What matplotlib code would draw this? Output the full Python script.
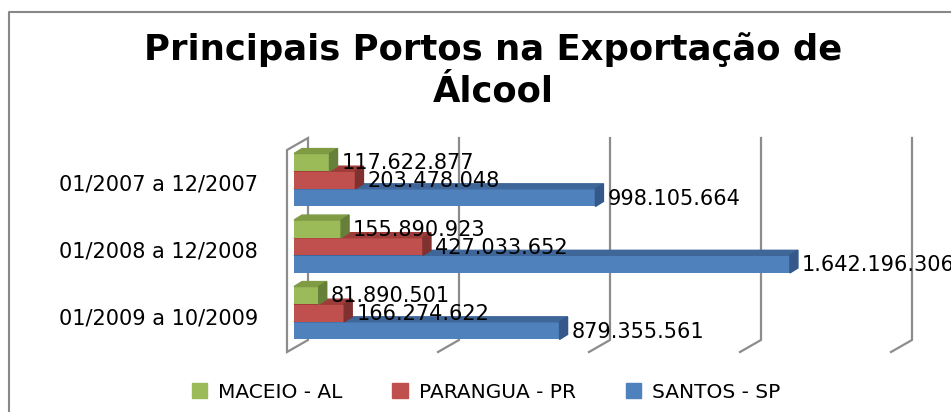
import matplotlib.pyplot as plt
from matplotlib.patches import Polygon, Patch

periodos = ['01/2007 a 12/2007', '01/2008 a 12/2008', '01/2009 a 10/2009']
maceio = [117622877, 155890923, 81890501]
parangua = [203478048, 427033652, 166274622]
santos = [998105664, 1642196306, 879355561]
series_names = ['MACEIO - AL', 'PARANGUA - PR', 'SANTOS - SP']
grid_vals = [0, 500e6, 1000e6, 1500e6, 2000e6]

W, H = 951, 412
fig = plt.figure(figsize=(W / 100, H / 100), dpi=100)
ax = fig.add_axes([0, 0, 1, 1])

# pixel <-> data mapping (x in units, y in category steps)
sx = 0.302e-6      # px per unit
ox = 294           # px of zero
pitch = 66.5       # px between groups
oy = 313           # px (from top) of the bottom group centre
ax.set_xlim(-ox / sx, (W - ox) / sx)
ax.set_ylim((oy - H) / pitch, oy / pitch)
ax.axis('off')

def px(dx):
    return dx / sx

def py(dy):
    return dy / pitch

# walls / gridlines
wall_c = '#8c8c8c'
back_dx, front_dx = px(14), px(-7)
back_top, back_bot = py(313 - 138), py(313 - 340)
front_top, front_bot = py(313 - 150), py(313 - 352)
ax.add_patch(Polygon([(front_dx, front_top), (back_dx, back_top), (back_dx, back_bot),
                      (front_dx, front_bot)], closed=True, fill=False,
                     edgecolor=wall_c, lw=1.6, zorder=1))
for g in grid_vals[1:]:
    ax.plot([g + back_dx, g + back_dx, g + front_dx],
            [back_top, back_bot, front_bot], color=wall_c, lw=1.6, zorder=1)

# bars with a little 3D side/top face
h = 0.265
ddx, ddy = px(8), py(5)
face = ['#9bbb59', '#c0504d', '#4f81bd']
top = ['#7f9c44', '#9e3c3a', '#3e6699']
side = ['#66803a', '#80302e', '#34588a']
ypos = [2, 1, 0]
data = [maceio, parangua, santos]
offs = [h, 0, -h]
z = 2
for s in [2, 1, 0]:
    for i, y0 in enumerate(ypos):
        v = data[s][i]
        yc = y0 + offs[s]
        yb, yt = yc - h / 2, yc + h / 2
        ax.barh(yc, v, height=h, color=face[s], zorder=z)
        ax.add_patch(Polygon([(0, yt), (ddx, yt + ddy), (v + ddx, yt + ddy), (v, yt)],
                             closed=True, color=top[s], zorder=z))
        ax.add_patch(Polygon([(v, yb), (v + ddx, yb + ddy), (v + ddx, yt + ddy), (v, yt)],
                             closed=True, color=side[s], zorder=z))
        ax.text(v + px(12), yc - py(1), f'{v:,}'.replace(',', '.'), fontsize=15,
                va='center', ha='left', color='black', zorder=10, clip_on=False)
    z += 1

for i, y0 in enumerate(ypos):
    ax.text(px(258 - 294), y0 - py(5), periodos[i], fontsize=15, ha='right', va='center')

fig.text(493 / W, 1 - 60 / H, 'Principais Portos na Exportação de',
         fontsize=25.5, fontweight='bold', ha='center', va='baseline')
fig.text(493 / W, 1 - 102 / H, 'Álcool',
         fontsize=25.5, fontweight='bold', ha='center', va='baseline')

handles = [Patch(color=face[k], label=series_names[k]) for k in range(3)]
fig.legend(handles=handles, loc='center', bbox_to_anchor=(486 / W, 1 - 392 / H), ncol=3,
           frameon=False, handlelength=0.75, handleheight=0.75, handletextpad=0.55,
           columnspacing=2.5, prop={'size': 14.5})

# outer frame
fig.add_artist(plt.Line2D([9 / W, 9 / W, 1.0], [0, 1 - 12 / H, 1 - 12 / H],
                          transform=fig.transFigure, color='#888888', lw=1.5))

fig.savefig('out.png', dpi=100)
